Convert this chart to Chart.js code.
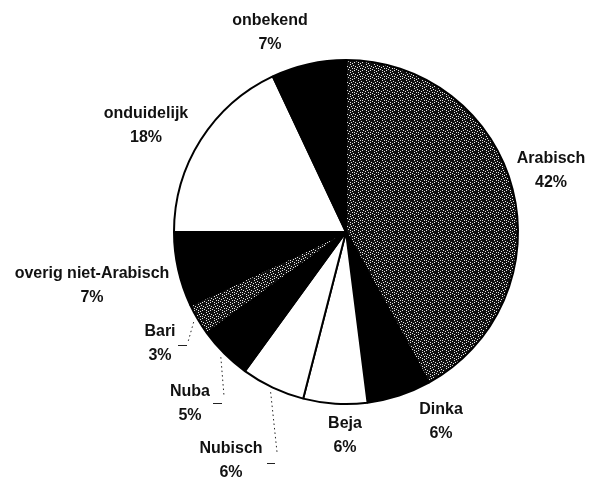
<!DOCTYPE html>
<html>
<head>
<meta charset="utf-8">
<script src="https://cdn.jsdelivr.net/npm/chart.js@4/dist/chart.umd.min.js"></script>
<style>
    html, body { margin: 0; padding: 0; background: #fff; }
    #wrap { width: 592px; height: 480px; }
</style>
</head>
<body>
<div id="wrap"><canvas id="pie" width="592" height="480"></canvas></div>
<script>
// ---- Data ---------------------------------------------------------------

const LABELS = ['Arabisch', 'Dinka', 'Beja', 'Nubisch', 'Nuba', 'Bari', 'overig niet-Arabisch', 'onduidelijk', 'onbekend'];
const PERCENTAGES = [42, 6, 6, 6, 5, 3, 7, 18, 7];

// ---- Fills --------------------------------------------------------------

// Fixed 8x8 bitmap approximating the speckled dark grey of the scan.
const SPECKLE_ROWS = [
    '11111101',
    '10111111',
    '11101110',
    '11111011',
    '01011111',
    '11110111',
    '11011101',
    '01111111',
];

function makeSpeckle() {
    const c = document.createElement('canvas');
    c.width = 8;
    c.height = 8;
    const g = c.getContext('2d');
    SPECKLE_ROWS.forEach((row, y) => {
        [...row].forEach((bit, x) => {
            g.fillStyle = bit === '1' ? '#111' : '#e6e6e6';
            g.fillRect(x, y, 1, 1);
        });
    });
    return g.createPattern(c, 'repeat');
}

const speckle = makeSpeckle();
const FILLS = [speckle, '#000', '#fff', '#fff', '#000', speckle, '#000', '#fff', '#000'];

// ---- Label plugin -------------------------------------------------------

// Label block centres, relative to the pie centre.
const LABEL_OFFSETS = [
    [205, -61], [95, 190], [-1, 204], [-115, 229], [-156, 172],
    [-186, 112], [-254, 54], [-200, -106], [-76, -199],
];

// Leader lines: slice index, end of dotted part, short dash (x1, x2, y).
const LEADERS = [
    { i: 5, end: [-158, 110], dash: [-168, -159, 113] },
    { i: 4, end: [-122, 164], dash: [-133, -124, 171] },
    { i: 3, end: [-69, 220], dash: [-79, -71, 231] },
];

const labelPlugin = {
    id: 'sliceLabels',
    afterDraw(chart) {
        const meta = chart.getDatasetMeta(0);
        const first = meta.data[0];
        const cx = first.x, cy = first.y;
        const ctx = chart.ctx;

        ctx.save();
        ctx.font = 'bold 16px "Liberation Sans", Arial, sans-serif';
        ctx.fillStyle = '#111';
        ctx.textAlign = 'center';
        ctx.textBaseline = 'middle';
        LABELS.forEach((name, i) => {
            const [dx, dy] = LABEL_OFFSETS[i];
            ctx.fillText(name, cx + dx, cy + dy - 12);
            ctx.fillText(PERCENTAGES[i] + '%', cx + dx, cy + dy + 12);
        });

        ctx.strokeStyle = '#222';
        ctx.lineWidth = 1;
        for (const l of LEADERS) {
            const arc = meta.data[l.i];
            const mid = (arc.startAngle + arc.endAngle) / 2;
            const r = arc.outerRadius + 5;
            ctx.setLineDash([1.5, 3]);
            ctx.beginPath();
            ctx.moveTo(cx + r * Math.cos(mid), cy + r * Math.sin(mid));
            ctx.lineTo(cx + l.end[0], cy + l.end[1]);
            ctx.stroke();
            ctx.setLineDash([]);
            ctx.beginPath();
            ctx.moveTo(cx + l.dash[0], cy + l.dash[2] + 0.5);
            ctx.lineTo(cx + l.dash[1], cy + l.dash[2] + 0.5);
            ctx.stroke();
        }
        ctx.restore();
    },
};

// ---- Chart --------------------------------------------------------------

new Chart(document.getElementById('pie'), {
    type: 'pie',
    data: {
        labels: LABELS,
        datasets: [{
            data: PERCENTAGES,
            backgroundColor: FILLS,
            borderColor: '#000',
            borderWidth: 2,
        }],
    },
    options: {
        responsive: false,
        animation: false,
        layout: { padding: { left: 173, right: 73, top: 59, bottom: 75 } },
        plugins: {
            legend: { display: false },
            tooltip: { enabled: false },
        },
    },
    plugins: [labelPlugin],
});
</script>
</body>
</html>
